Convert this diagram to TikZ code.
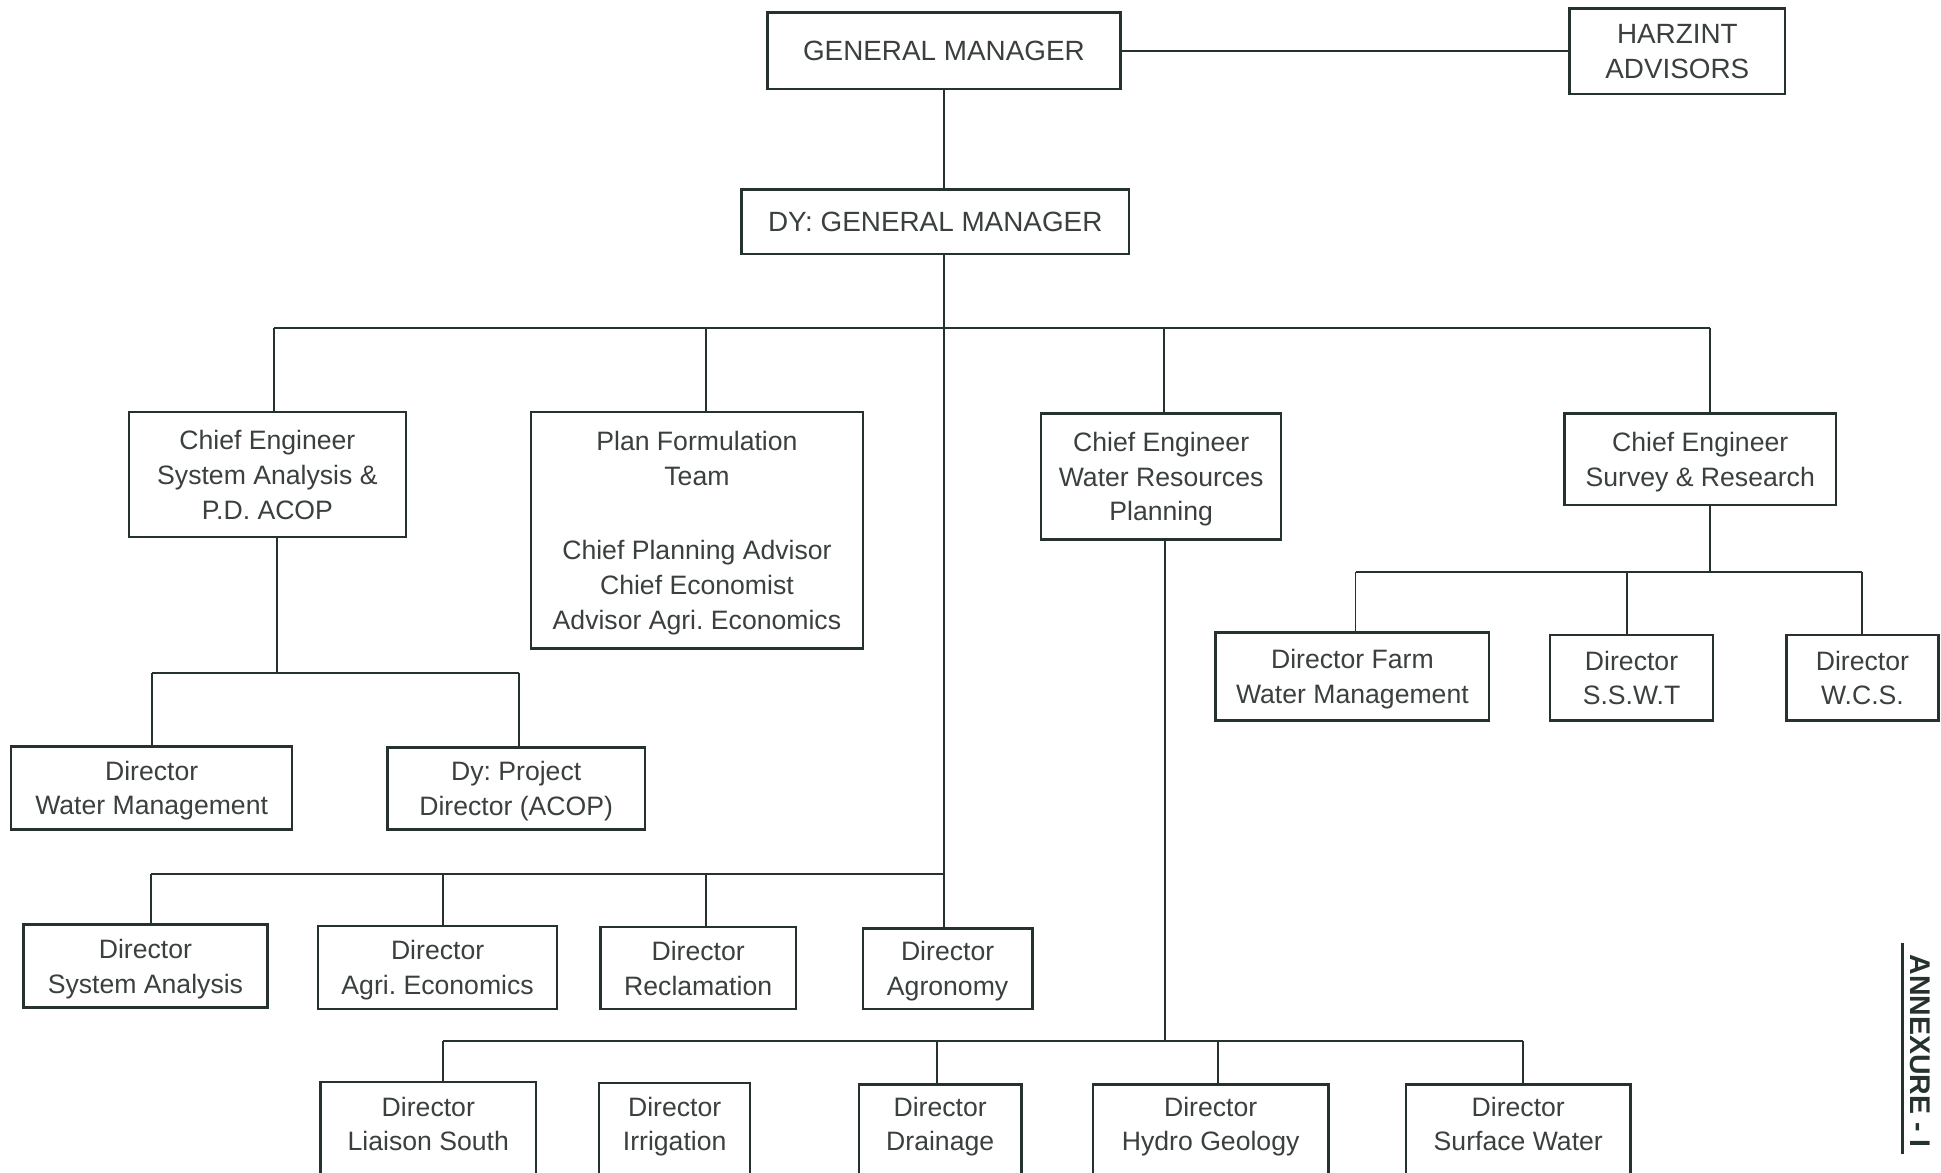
\documentclass[tikz,border=0pt]{standalone}
\usepackage{fontspec}
\setmainfont{Liberation Sans}
\definecolor{ink}{RGB}{38,50,48}
\definecolor{txt}{RGB}{58,64,62}
\newcommand\fsz{\fontsize{21.5}{28}\selectfont}
\newcommand\fcap{\fontsize{22.5}{28}\selectfont}
\tikzset{
  box/.style={draw=ink, line width=2pt, inner sep=0pt, align=center, font=\fsz, text=txt, text depth=0pt},
  capbox/.style={box, font=\fcap},
  lbl/.style={inner sep=0pt, align=center, font=\fsz, text=txt, text depth=0pt},
  conn/.style={draw=ink, line width=1.6pt},
}
\begin{document}
\frenchspacing
\begin{tikzpicture}[x=1pt,y=-1pt]
\useasboundingbox (0,0) rectangle (1568,947);
\clip (0,0) rectangle (1568,947);
\fill[white] (0,0) rectangle (1568,947);
% top
\node[capbox, minimum width=285, minimum height=62] (gm) at (762.5,41) {GENERAL MANAGER};
\node[capbox, minimum width=174, minimum height=69] (harz) at (1355,41.5) {HARZINT\\ADVISORS};
\node[capbox, minimum width=313, minimum height=52] (dy) at (755.5,179) {DY: GENERAL MANAGER};
% second level
\node[box, minimum width=224, minimum height=101] (cesa) at (216,383.5) {Chief Engineer\\System Analysis \&\\P.D. ACOP};
\node[box, minimum width=268, minimum height=191] (pft) at (563,428.5) {Plan Formulation\\Team\\[32pt]Chief Planning Advisor\\Chief Economist\\Advisor Agri. Economics};
\node[box, minimum width=194, minimum height=102] (cewr) at (938,385) {Chief Engineer\\Water Resources\\Planning};
\node[box, minimum width=219, minimum height=74] (cesr) at (1373.5,371) {Chief Engineer\\Survey \& Research};
% under CE system analysis
\node[box, minimum width=227, minimum height=67] (dwm) at (122.5,636.5) {Director\\Water Management};
\node[box, minimum width=208, minimum height=66] (dpd) at (417,637) {Dy: Project\\Director (ACOP)};
% row under DY
\node[box, minimum width=197, minimum height=67] (dsa) at (117.5,780.5) {Director\\System Analysis};
\node[box, minimum width=193, minimum height=67] (dae) at (353.5,781.5) {Director\\Agri. Economics};
\node[box, minimum width=158, minimum height=66] (drc) at (564,782) {Director\\Reclamation};
\node[box, minimum width=137, minimum height=65] (dag) at (765.5,782.5) {Director\\Agronomy};
% under CE survey
\node[box, minimum width=221, minimum height=71] (dfw) at (1092.5,546.5) {Director Farm\\Water Management};
\node[box, minimum width=132, minimum height=69] (dss) at (1318,547.5) {Director\\S.S.W.T};
\node[box, minimum width=123, minimum height=69] (dwc) at (1504.5,547.5) {Director\\W.C.S.};
% bottom row (cut off by page)
\node[box, minimum width=174, minimum height=160, anchor=north] (dls) at (346,873) {};
\node[lbl] (dlst) at (346,908) {Director\\Liaison South};
\node[box, minimum width=122, minimum height=160, anchor=north] (dir) at (545,874) {};
\node[lbl] (dirt) at (545,908) {Director\\Irrigation};
\node[box, minimum width=131, minimum height=160, anchor=north] (ddr) at (759.5,875) {};
\node[lbl] (ddrt) at (759.5,908) {Director\\Drainage};
\node[box, minimum width=190, minimum height=160, anchor=north] (dhg) at (978,875) {};
\node[lbl] (dhgt) at (978,908) {Director\\Hydro Geology};
\node[box, minimum width=181, minimum height=160, anchor=north] (dsw) at (1226.5,875) {};
\node[lbl] (dswt) at (1226.5,908) {Director\\Surface Water};
% annexure
\node[rotate=-90, inner sep=0pt, font=\fontsize{23}{28}\selectfont\bfseries, text=ink] (anx) at (1551,849) {ANNEXURE - I};
\coordinate (ux) at (1537,762);
\draw[ink, line width=2.4pt] (ux) -- (ux |- 0,932);
% connectors
\draw[conn] (gm.east) -- (harz.west |- gm.east);
\draw[conn] (gm.south) -- (gm.south |- dy.north);
\draw[conn] (gm.south |- dy.south) -- (gm.south |- dag.north);
\coordinate (t1) at (221,265);
\coordinate (t2) at (570,265);
\coordinate (t3) at (940,265);
\coordinate (t4) at (1381,265);
\draw[conn] (t1) -- (t4);
\draw[conn] (t1) -- (t1 |- cesa.north);
\draw[conn] (t2) -- (t2 |- pft.north);
\draw[conn] (t3) -- (t3 |- cewr.north);
\draw[conn] (t4) -- (t4 |- cesr.north);
% CE system analysis group
\coordinate (m0) at (123,544);
\coordinate (m1) at (224,544);
\coordinate (m2) at (419,544);
\draw[conn] (m1 |- cesa.south) -- (m1);
\draw[conn] (m0) -- (m2);
\draw[conn] (m0) -- (m0 |- dwm.north);
\draw[conn] (m2) -- (m2 |- dpd.north);
% DY directors row
\coordinate (a0) at (122,706);
\coordinate (a1) at (358,706);
\coordinate (a2) at (570,706);
\draw[conn] (a0) -- (gm.south |- a0);
\draw[conn] (a0) -- (a0 |- dsa.north);
\draw[conn] (a1) -- (a1 |- dae.north);
\draw[conn] (a2) -- (a2 |- drc.north);
% CE water resources group
\coordinate (w0) at (941,841);
\coordinate (b0) at (358,841);
\coordinate (b1) at (757,841);
\coordinate (b2) at (984,841);
\coordinate (b3) at (1230,841);
\draw[conn] (w0 |- cewr.south) -- (w0);
\draw[conn] (b0) -- (b3);
\draw[conn] (b0) -- (b0 |- dls.north);
\draw[conn] (b1) -- (b1 |- ddr.north);
\draw[conn] (b2) -- (b2 |- dhg.north);
\draw[conn] (b3) -- (b3 |- dsw.north);
% CE survey group
\coordinate (r0) at (1381,462);
\coordinate (c0) at (1095,462);
\coordinate (c1) at (1314,462);
\coordinate (c2) at (1504,462);
\draw[conn] (r0 |- cesr.south) -- (r0);
\draw[conn] (c0) -- (c2);
\draw[conn] (c0) -- (c0 |- dfw.north);
\draw[conn] (c1) -- (c1 |- dss.north);
\draw[conn] (c2) -- (c2 |- dwc.north);
\end{tikzpicture}
\end{document}
